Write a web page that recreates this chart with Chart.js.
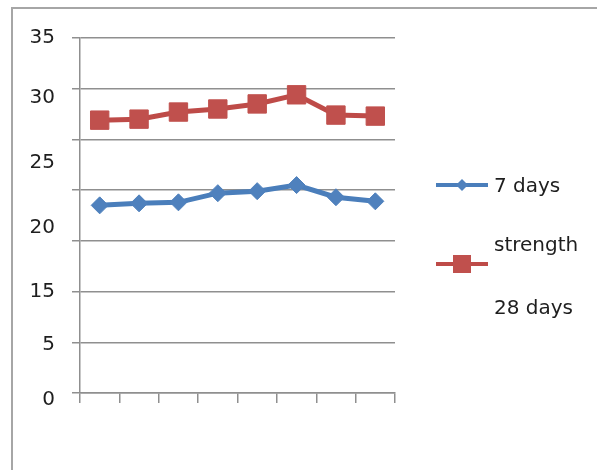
<!DOCTYPE html>
<html>
<head>
<meta charset="utf-8">
<script src="https://cdn.jsdelivr.net/npm/chart.js@4/dist/chart.umd.min.js"></script>
<style>
  html, body { margin: 0; padding: 0; background: #ffffff; }
  #wrap { width: 597px; height: 470px; position: relative; }
</style>
</head>
<body>
<div id="wrap"><canvas id="chart" width="597" height="470"></canvas></div>
<script>
// Eight samples per series, no category captions on the x axis
const categories = ['', '', '', '', '', '', '', ''];

// Compressive strength readings
const strength7Days = [18.5, 18.7, 18.8, 19.7, 19.9, 20.5, 19.3, 18.9];
const strength28Days = [26.9, 27.0, 27.7, 28.0, 28.5, 29.4, 27.4, 27.3];

// Legend captions (second entry wraps around its marker)
const seriesNames = [['7 days'], ['strength', '28 days']];

// Value-axis captions and the scale values they sit at
const tickLabels = ['35', '30', '25', '20', '15', '5', '0'];
const tickLabelValues = [35, 29.1, 22.7, 16.3, 10, 4.8, -0.7];

const BLUE = '#4f81bd';
const RED = '#c0504d';
const GRID = '#8f8f8f';
const FONT = "'DejaVu Sans', sans-serif";

// White page plus the thin grey frame along the top and left
const framePlugin = {
  id: 'frame',
  beforeDraw(chart) {
    const ctx = chart.ctx;
    ctx.save();
    ctx.fillStyle = '#ffffff';
    ctx.fillRect(0, 0, chart.width, chart.height);
    ctx.strokeStyle = '#a6a6a6';
    ctx.lineWidth = 2;
    ctx.beginPath();
    ctx.moveTo(12, chart.height + 2);
    ctx.lineTo(12, 8);
    ctx.lineTo(chart.width + 2, 8);
    ctx.stroke();
    ctx.restore();
  }
};

// Legend on the right: line + marker, captions beside it
const legendPlugin = {
  id: 'sideLegend',
  afterDraw(chart) {
    const ctx = chart.ctx;
    const x0 = 436, x1 = 488, xm = 462, tx = 494;
    ctx.save();
    ctx.beginPath();
    ctx.rect(400, 150, 197, 168);
    ctx.clip();
    ctx.font = '20px ' + FONT;
    ctx.fillStyle = '#1e1e1e';
    ctx.textBaseline = 'middle';
    ctx.textAlign = 'left';

    // first series
    const ds0 = chart.data.datasets[0];
    let y = 185;
    ctx.strokeStyle = ds0.borderColor;
    ctx.lineWidth = 4;
    ctx.beginPath(); ctx.moveTo(x0, y); ctx.lineTo(x1, y); ctx.stroke();
    ctx.fillStyle = ds0.pointBackgroundColor;
    ctx.beginPath();
    ctx.moveTo(xm - 6, y); ctx.lineTo(xm, y - 6); ctx.lineTo(xm + 6, y); ctx.lineTo(xm, y + 6);
    ctx.closePath(); ctx.fill();
    ctx.fillStyle = '#1e1e1e';
    ctx.fillText(seriesNames[0][0], tx, 187);

    // second series
    const ds1 = chart.data.datasets[1];
    y = 264;
    ctx.strokeStyle = ds1.borderColor;
    ctx.lineWidth = 4;
    ctx.beginPath(); ctx.moveTo(x0, y); ctx.lineTo(x1, y); ctx.stroke();
    ctx.fillStyle = ds1.pointBackgroundColor;
    ctx.fillRect(xm - 9, y - 9, 18, 18);
    ctx.fillStyle = '#1e1e1e';
    ctx.fillText(seriesNames[1][0], tx, 246);
    ctx.fillText(seriesNames[1][1], tx, 309);
    ctx.restore();
  }
};

new Chart(document.getElementById('chart'), {
  type: 'line',
  data: {
    labels: categories,
    datasets: [
      {
        label: seriesNames[0].join(' '),
        data: strength7Days,
        borderColor: '#4a7ebb',
        borderWidth: 5,
        pointStyle: 'rectRot',
        pointRadius: 8.5,
        pointBorderWidth: 1,
        pointBackgroundColor: BLUE,
        pointBorderColor: BLUE,
        tension: 0,
        yAxisID: 'y'
      },
      {
        label: seriesNames[1].join(' '),
        data: strength28Days,
        borderColor: '#be4b48',
        borderWidth: 5,
        pointStyle: 'rect',
        pointRadius: 13,
        pointBorderWidth: 1,
        pointBackgroundColor: RED,
        pointBorderColor: RED,
        tension: 0,
        yAxisID: 'y'
      }
    ]
  },
  options: {
    responsive: false,
    animation: false,
    layout: { padding: { left: 20, right: 202, top: 38, bottom: 67 } },
    plugins: {
      legend: { display: false },
      tooltip: { enabled: false }
    },
    scales: {
      x: {
        type: 'category',
        offset: true,
        grid: {
          display: true,
          offset: true,
          drawOnChartArea: false,
          drawTicks: true,
          tickLength: 10,
          color: GRID,
          lineWidth: 1.5
        },
        border: { display: true, color: GRID, width: 1.5 },
        ticks: { display: false }
      },
      y: {
        position: 'left',
        weight: 0,
        min: 0,
        max: 35,
        ticks: { display: false, stepSize: 5 },
        grid: { color: GRID, lineWidth: 1.5, drawTicks: true, tickLength: 8 },
        border: { display: true, color: GRID, width: 1.5 },
        afterFit(scale) { scale.width = 8; }
      },
      yl: {
        position: 'left',
        weight: 1,
        min: 0,
        max: 35,
        grid: { display: false, drawTicks: false },
        border: { display: false },
        afterBuildTicks(scale) {
          scale.ticks = tickLabelValues.map(v => ({ value: v }));
        },
        afterFit(scale) { scale.width = 52; },
        ticks: {
          autoSkip: false,
          padding: 17,
          color: '#1e1e1e',
          font: { family: FONT, size: 20 },
          callback: (value, index) => tickLabels[index]
        }
      }
    }
  },
  plugins: [framePlugin, legendPlugin]
});
</script>
</body>
</html>
